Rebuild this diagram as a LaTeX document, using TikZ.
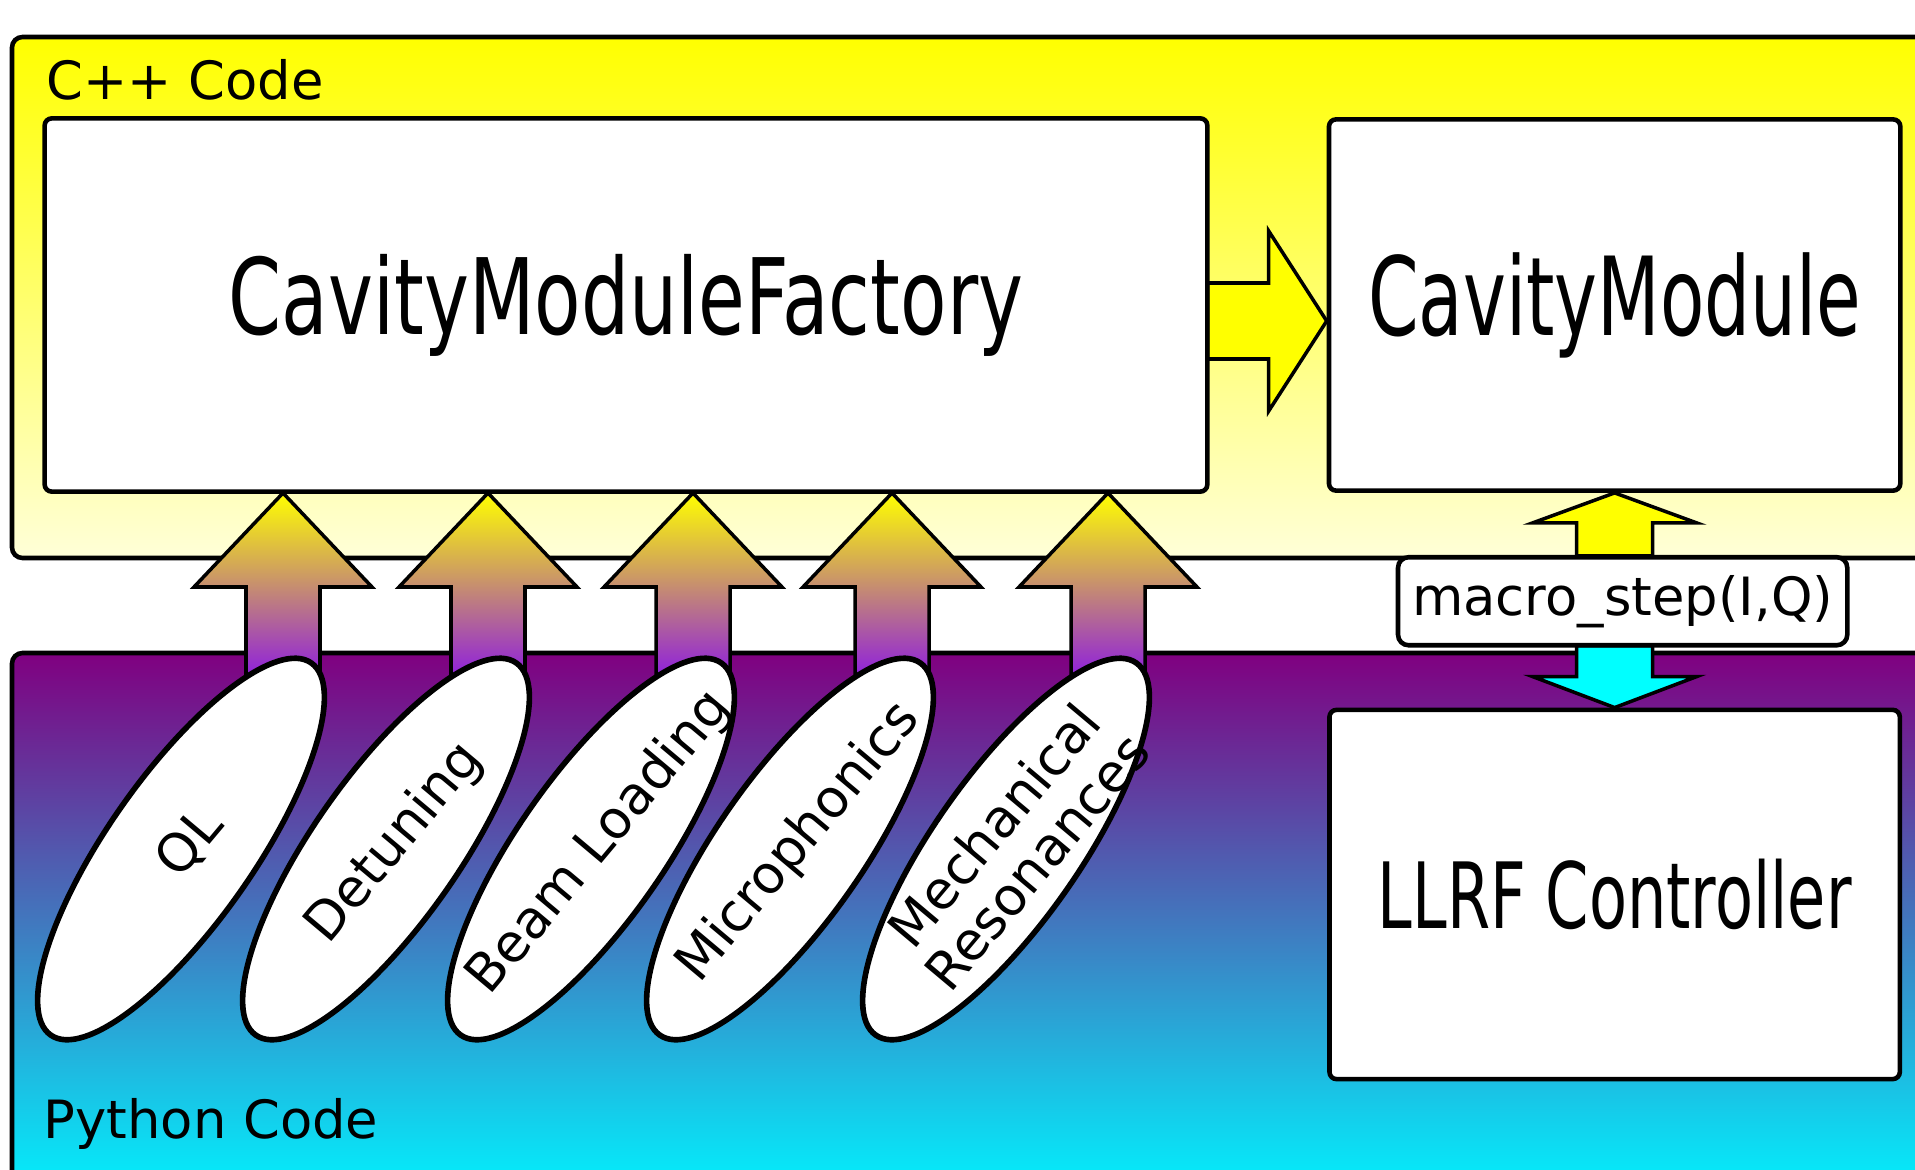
\documentclass[tikz,border=0pt]{standalone}
\usepackage{graphicx}
\usepackage{fontspec}
\setmainfont{DejaVu Sans}
\usetikzlibrary{positioning,calc,shapes.geometric,backgrounds}
\definecolor{cppyellow}{HTML}{FFFF00}
\definecolor{cpppale}{HTML}{FFFFD8}
\definecolor{pypurple}{HTML}{800080}
\definecolor{pycyan}{HTML}{00F4FF}
\definecolor{arrowviolet}{HTML}{8A16E6}
\definecolor{callcyan}{HTML}{00FFFF}
\newcommand{\squash}[2][0.68]{\scalebox{#1}[1]{#2}}
\tikzset{
  region/.style={draw=black, line width=1.3pt, rounded corners=3pt},
  regiontext/.style={anchor=base west, inner sep=0pt, font=\fontsize{15}{18}\selectfont},
  classbox/.style={
    draw=black, fill=white, line width=1.3pt, rounded corners=2pt,
    align=center, inner sep=2pt
  },
  oval/.style={
    ellipse, draw=black, fill=white, line width=1.6pt, inner sep=0pt,
    minimum width=4.54cm, minimum height=1.46cm, rotate=55
  },
  ovaltext/.style={rotate=50, align=center, inner sep=0pt, font=\fontsize{15}{16}\selectfont},
  blockup/.style={draw=black, line width=1pt, line join=miter, top color=cppyellow, bottom color=arrowviolet},
  block/.style={draw=black, line width=1pt, line join=miter, fill=#1}
}

\begin{document}
\begin{tikzpicture}[x=0.01cm, y=-0.01cm]
  \useasboundingbox (0,0) rectangle (1915,1170);

  % classes
  \node[classbox, minimum width=11.62cm, minimum height=3.73cm, font=\fontsize{30}{36}\selectfont] (factory) at (626,305) {\squash[0.72]{CavityModuleFactory}};
  \node[classbox, minimum width=5.71cm, minimum height=3.71cm, right=1.17cm of factory, font=\fontsize{31}{37}\selectfont] (module) {\squash[0.665]{CavityModule}};
  \node[classbox, rounded corners=3pt, minimum width=4.49cm, minimum height=0.88cm, below=0.62cm of module, xshift=0.08cm, font=\fontsize{15}{18}\selectfont] (call) {macro\_step(I,Q)};
  \node[classbox, minimum width=5.70cm, minimum height=3.69cm, below=0.6cm of call, xshift=-0.08cm, font=\fontsize{26}{31}\selectfont] (llrf) {\squash{LLRF Controller}};

  % python parts
  \foreach \n/\x/\t in {ql/181/QL, det/386/Detuning, beam/591/Beam Loading, mic/790/Microphonics, mech/1006/{Mechanical\\Resonances}} {
    \node[oval] (\n) at (\x,849) {};
    \node[ovaltext] (\n-text) at ($(\n)+(9,-6)$) {\t};
  }

  \node[regiontext] (cpplabel) at (46,100) {C++ Code};
  \node[regiontext] (pylabel) at (43,1138) {Python Code};

  \begin{scope}[on background layer]
    \draw[region, top color=cppyellow, bottom color=cpppale] (12,37) rectangle (1960,558);
    \draw[region, top color=pypurple, bottom color=pycyan] (12,653) rectangle (1960,1200);
    % python -> factory
    \foreach \n in {ql,det,beam,mic,mech}
      \draw[blockup] ($(\n.center)+(102,-356)$) -- ++(89,94) -- ++(-52,0) -- ++(0,97)
        -- ++(-74,0) -- ++(0,-97) -- ++(-52,0) -- cycle;
    % factory -> module
    \draw[block=cppyellow] ($(module.west)+(0,16)$) -- ++(-58,-90) -- ++(0,52) -- ++(-61,0)
      -- ++(0,76) -- ++(61,0) -- ++(0,52) -- cycle;
    % call <-> module, llrf
    \draw[block=cppyellow] (module.south) -- ++(82,30) -- ++(-44,0) -- ++(0,33)
      -- ++(-76,0) -- ++(0,-33) -- ++(-44,0) -- cycle;
    \draw[block=callcyan] (llrf.north) -- ++(82,-31) -- ++(-44,0) -- ++(0,-31)
      -- ++(-76,0) -- ++(0,31) -- ++(-44,0) -- cycle;
  \end{scope}
\end{tikzpicture}
\end{document}
